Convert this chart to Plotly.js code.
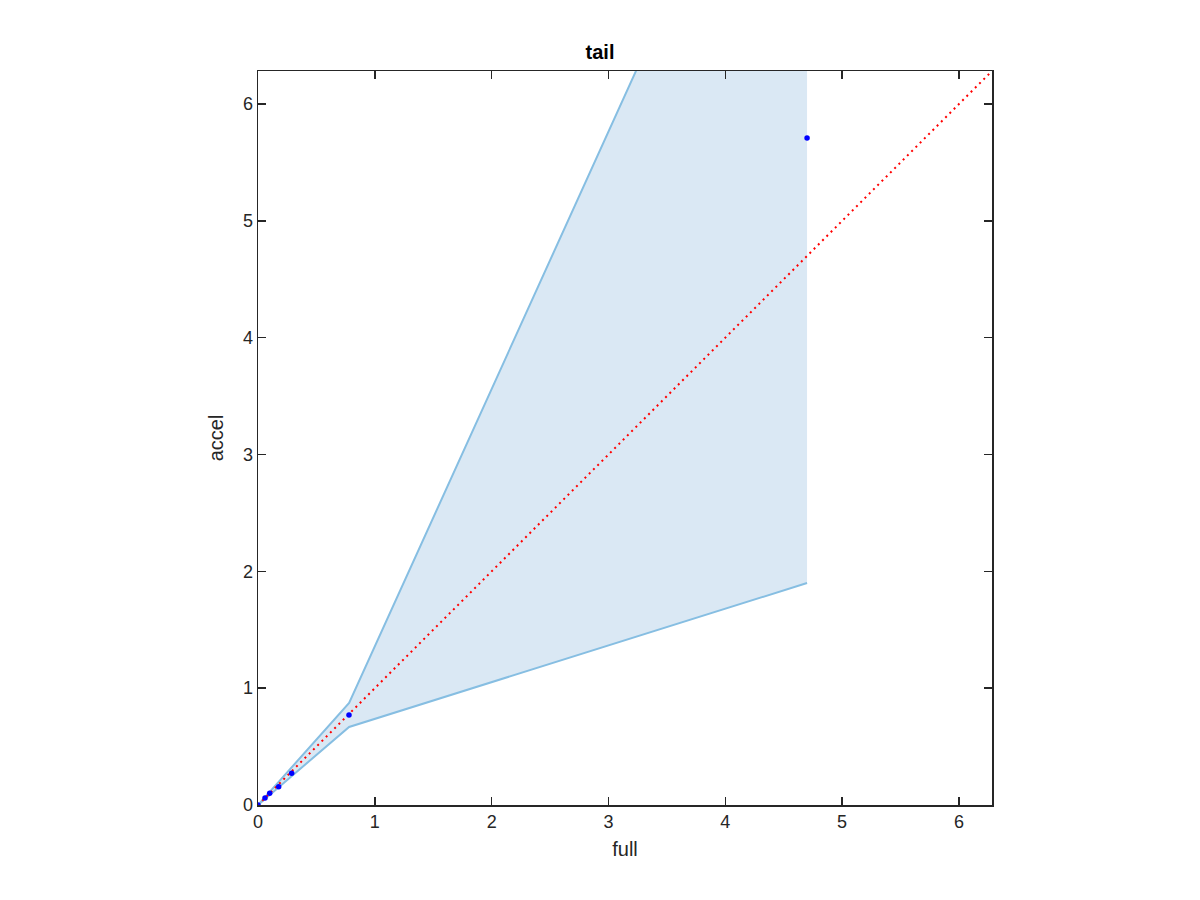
<!DOCTYPE html>
<html>
<head>
<meta charset="utf-8">
<script src="https://cdn.plot.ly/plotly-3.0.1.min.js"></script>
<style>html,body{margin:0;padding:0;background:#fff;}#chart{width:1200px;height:900px;}</style>
</head>
<body>
<div id="chart"></div>
<script>
var bandX = [0, 0.06, 0.10, 0.18, 0.29, 0.78, 4.70];
var bandUpper = [0, 0.067, 0.112, 0.20, 0.325, 0.873, 9.51];
var bandLower = [0, 0.051, 0.086, 0.155, 0.25, 0.668, 1.90];
var pointX = [0, 0.06, 0.10, 0.177, 0.288, 0.779, 4.70];
var pointY = [0, 0.06, 0.10, 0.157, 0.271, 0.77, 5.71];
var diagX = [0, 6.2832];
var diagY = [0, 6.2832];
var tickVals = [0, 1, 2, 3, 4, 5, 6];
var tickText = ['0', '1', '2', '3', '4', '5', '6'];

var polyX = bandX.concat(bandX.slice().reverse());
var polyY = bandUpper.concat(bandLower.slice().reverse());

var traces = [
  {x: polyX, y: polyY, mode: 'lines', fill: 'toself', fillcolor: 'rgb(218,232,244)',
   line: {width: 0, color: 'rgba(0,0,0,0)'}, hoverinfo: 'skip', showlegend: false},
  {x: bandX, y: bandUpper, mode: 'lines', line: {color: 'rgb(134,190,226)', width: 2}, showlegend: false},
  {x: bandX, y: bandLower, mode: 'lines', line: {color: 'rgb(134,190,226)', width: 2}, showlegend: false},
  {x: diagX, y: diagY, mode: 'lines', line: {color: 'rgb(255,0,0)', width: 2, dash: '2px,4px'}, showlegend: false},
  {x: pointX, y: pointY, mode: 'markers', marker: {color: 'rgb(0,0,255)', size: 5.5}, showlegend: false}
];

var axisCommon = {
  range: [0, 6.2832], tickvals: tickVals, ticktext: tickText,
  ticks: 'inside', ticklen: 8, tickwidth: 1.5, tickcolor: '#262626',
  showline: true, linecolor: '#262626', linewidth: 1.5, mirror: 'ticks',
  showgrid: false, zeroline: false,
  tickfont: {family: 'Liberation Sans, Arial, sans-serif', size: 18, color: '#262626'}
};

var layout = {
  width: 1200, height: 900,
  margin: {l: 258, r: 208, t: 71, b: 95},
  paper_bgcolor: '#fff', plot_bgcolor: '#fff',
  title: {text: '<b>tail</b>', x: 0.5, xanchor: 'center', y: 0.942, yanchor: 'middle',
          font: {family: 'Liberation Sans, Arial, sans-serif', size: 20, color: '#000'}},
  xaxis: Object.assign({}, axisCommon, {title: {text: 'full', standoff: 11,
          font: {family: 'Liberation Sans, Arial, sans-serif', size: 20, color: '#262626'}}}),
  yaxis: Object.assign({}, axisCommon, {title: {text: 'accel', standoff: 14,
          font: {family: 'Liberation Sans, Arial, sans-serif', size: 20, color: '#262626'}}}),
  showlegend: false
};

Plotly.newPlot('chart', traces, layout, {displayModeBar: false, staticPlot: true});
</script>
</body>
</html>
